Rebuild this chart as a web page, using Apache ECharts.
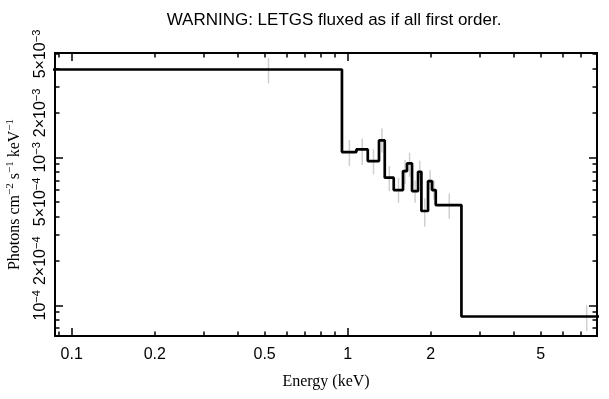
<!DOCTYPE html>
<html>
<head>
<meta charset="utf-8">
<script src="https://cdn.jsdelivr.net/npm/echarts@6/dist/echarts.min.js"></script>
<style>
  html, body { margin: 0; padding: 0; background: #fff; }
  #main { width: 609px; height: 399px; }
</style>
</head>
<body>
<div id="main"></div>
<script>
// bin edges (keV) and flux (photons cm^-2 s^-1 keV^-1)
const binLo = [0.08, 0.953, 1.075, 1.182, 1.298, 1.362, 1.468, 1.586, 1.640, 1.710, 1.798, 1.849, 1.954, 2.021, 2.084, 2.582];
const binHi = [0.953, 1.075, 1.182, 1.298, 1.362, 1.468, 1.586, 1.640, 1.710, 1.798, 1.849, 1.954, 2.021, 2.084, 2.582, 12.1];
const flux  = [3.93e-3, 1.086e-3, 1.132e-3, 9.44e-4, 1.303e-3, 7.29e-4, 6.01e-4, 8.08e-4, 9.11e-4, 5.92e-4, 8.0e-4, 4.34e-4, 6.91e-4, 6.01e-4, 4.76e-4, 8.4e-5];
const errLo = [3.16e-3, 8.74e-4, 8.87e-4, 7.67e-4, 1.08e-3, 5.92e-4, 4.94e-4, 6.6e-4, 7.4e-4, 4.94e-4, 7.1e-4, 3.4e-4, 6.0e-4, 5.2e-4, 3.85e-4, 6.7e-5];
const errHi = [4.70e-3, 1.31e-3, 1.344e-3, 1.133e-3, 1.57e-3, 8.73e-4, 7.29e-4, 9.6e-4, 1.076e-3, 7.0e-4, 9.5e-4, 5.3e-4, 8.2e-4, 7.0e-4, 5.7e-4, 1.0e-4];

const xMajor = [0.1, 1];
const xMinor = [0.09, 0.2, 0.3, 0.4, 0.5, 0.6, 0.7, 0.8, 0.9, 2, 3, 4, 5, 6, 7, 8];
const xLabels = [0.1, 0.2, 0.5, 1, 2, 5];
const yMajor = [1e-4, 1e-3];
const yMinor = [7e-5, 8e-5, 9e-5, 2e-4, 3e-4, 4e-4, 5e-4, 6e-4, 7e-4, 8e-4, 9e-4, 2e-3, 3e-3, 4e-3, 5e-3];
const yLabels = [1e-4, 2e-4, 5e-4, 1e-3, 2e-3, 5e-3];

const X_MIN = 0.087, X_MAX = 8;
const Y_MIN = 6.2e-5, Y_MAX = 5.08e-3;

const stepData = [];
binLo.forEach((lo, i) => {
  stepData.push([lo, flux[i]]);
  stepData.push([binHi[i], flux[i]]);
});
const errData = binLo.map((lo, i) => [(lo + binHi[i]) / 2, errLo[i], errHi[i]]);

const sans = 'Liberation Sans';
const serif = 'Liberation Serif';

function yFmt(v) {
  const e = Math.floor(Math.log10(v) + 1e-9);
  const m = Math.round(v / Math.pow(10, e));
  const pre = m === 1 ? '' : m + '\u00d7';
  return pre + '10{sup|\u2212' + (-e) + '}';
}

function xAx(pos, ticks, len, labels) {
  return {
    type: 'log', position: pos, min: X_MIN, max: X_MAX,
    axisLine: { show: !!labels || pos === 'top', lineStyle: { color: '#000', width: 2 } },
    axisTick: { show: true, inside: true, length: len, customValues: ticks, lineStyle: { color: '#000', width: 1.5 } },
    axisLabel: labels ? { show: true, customValues: labels, color: '#000', fontFamily: sans, fontSize: 16, margin: 11,
      formatter: v => String(+v.toPrecision(3)) } : { show: false },
    splitLine: { show: false }, minorTick: { show: false }
  };
}

function yAx(pos, ticks, len, labels) {
  return {
    type: 'log', position: pos, min: Y_MIN, max: Y_MAX,
    axisLine: { show: !!labels || pos === 'right', lineStyle: { color: '#000', width: 2 } },
    axisTick: { show: true, inside: true, length: len, customValues: ticks, lineStyle: { color: '#000', width: 1.5 } },
    axisLabel: labels ? {
      show: true, customValues: labels, rotate: 90, color: '#000', fontFamily: sans, fontSize: 16, margin: 5,
      formatter: yFmt,
      rich: { sup: { fontSize: 11, fontFamily: sans, color: '#000', verticalAlign: 'top', padding: [0, 0, 8, 0] } }
    } : { show: false },
    splitLine: { show: false }, minorTick: { show: false }
  };
}

const xAxes = [xAx('bottom', xMajor, 8, xLabels), xAx('bottom', xMinor, 4.5), xAx('top', xMajor, 8), xAx('top', xMinor, 4.5)];
xAxes[0].name = 'Energy (keV)';
xAxes[0].nameLocation = 'middle';
xAxes[0].nameGap = 38;
xAxes[0].nameTextStyle = { color: '#000', fontFamily: serif, fontSize: 16 };

const yAxes = [yAx('left', yMajor, 8, yLabels), yAx('left', yMinor, 4.5), yAx('right', yMajor, 8), yAx('right', yMinor, 4.5)];
yAxes[0].name = 'Photons cm{sup|\u22122} s{sup|\u22121} keV{sup|\u22121}';
yAxes[0].nameLocation = 'middle';
yAxes[0].nameGap = 31;
yAxes[0].nameTextStyle = { color: '#000', fontFamily: serif, fontSize: 16,
  rich: { sup: { fontSize: 11, fontFamily: serif, color: '#000', verticalAlign: 'top', padding: [0, 0, 8, 0] } } };

const chart = echarts.init(document.getElementById('main'));
chart.setOption({
  animation: false,
  backgroundColor: '#fff',
  title: {
    text: 'WARNING: LETGS fluxed as if all first order.',
    left: 329, top: 7, textAlign: 'center',
    textStyle: { color: '#000', fontFamily: sans, fontSize: 17, fontWeight: 'normal' }
  },
  grid: { left: 55, right: 12, top: 53, bottom: 63, containLabel: false, outerBoundsMode: 'none' },
  xAxis: xAxes,
  yAxis: yAxes,
  series: [
    {
      type: 'custom',
      xAxisIndex: 0, yAxisIndex: 0,
      data: errData,
      encode: { x: 0, y: [1, 2] },
      clip: true,
      renderItem: (params, api) => {
        const a = api.coord([api.value(0), api.value(1)]);
        const b = api.coord([api.value(0), api.value(2)]);
        return { type: 'line', shape: { x1: a[0], y1: a[1], x2: b[0], y2: b[1] },
          style: { stroke: '#cfcfcf', lineWidth: 1.5 } };
      },
      z: 1
    },
    {
      type: 'line',
      xAxisIndex: 0, yAxisIndex: 0,
      data: stepData,
      showSymbol: false, symbol: 'none',
      clip: true,
      lineStyle: { color: '#000', width: 2.7 },
      z: 3
    }
  ]
});
</script>
</body>
</html>
